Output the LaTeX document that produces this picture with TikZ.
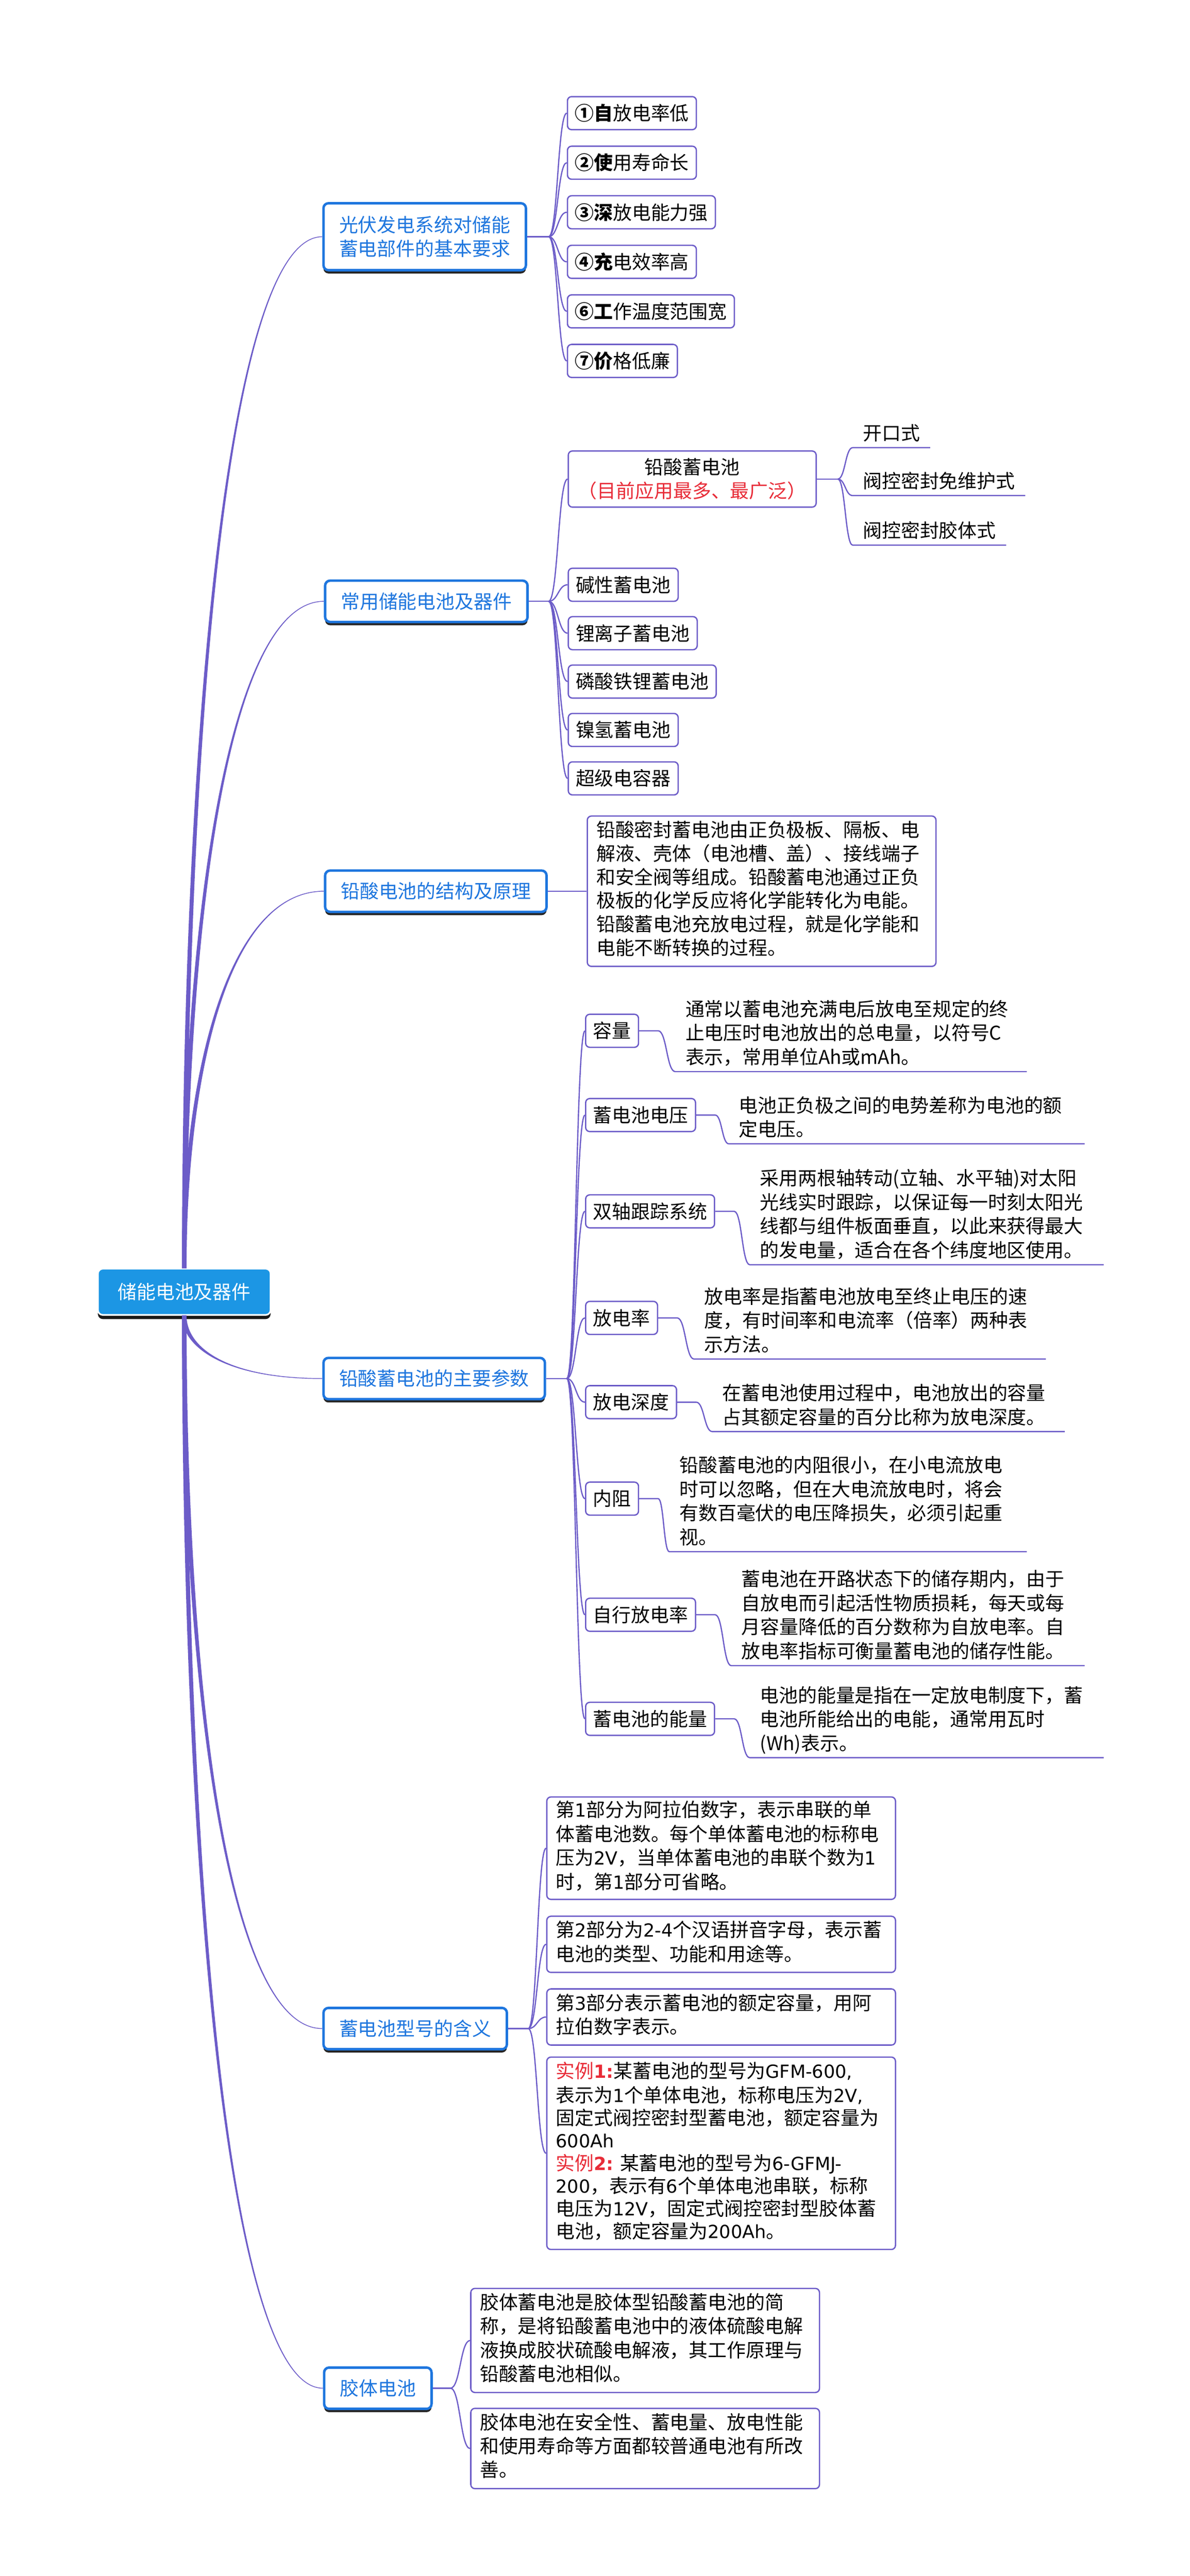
\documentclass[tikz,border=0pt]{standalone}
\usepackage{fontspec}
\setmainfont{Noto Sans CJK SC}
\newfontfamily\numfont{DejaVu Sans}[Scale=0.95]
\usetikzlibrary{calc,shadows}
\definecolor{linkc}{RGB}{108,92,200}
\definecolor{topicc}{RGB}{30,118,222}
\definecolor{rootc}{RGB}{28,150,228}
\definecolor{redc}{RGB}{232,44,56}
\tikzset{
  txt/.style={font={\fontsize{11.5pt}{14.5pt}\selectfont}},
  rootbox/.style={txt,rounded corners=3pt,fill=rootc,draw=white,line width=1pt,text=white,inner xsep=12pt,minimum height=28pt,drop shadow={shadow xshift=0pt,shadow yshift=-2.5pt,fill=black,opacity=0.9}},
  topic/.style={txt,anchor=west,rounded corners=3pt,draw=topicc,line width=1.5pt,fill=white,text=topicc,inner xsep=9.5pt,minimum height=25pt,drop shadow={shadow xshift=0pt,shadow yshift=-2pt,fill=black,opacity=0.85}},
  leaf/.style={txt,anchor=west,rounded corners=2.5pt,draw=linkc,line width=0.8pt,fill=white,inner xsep=4.5pt,minimum height=20pt},
  para/.style={leaf,align=left,text width=200pt,inner xsep=5.5pt,inner ysep=2.5pt,execute at begin node=\strut,execute at end node=\strut},
  note/.style={txt,anchor=south west,align=left,inner xsep=6pt,inner ysep=0pt,execute at begin node=\strut,execute at end node=\strut},
  link/.style={color=linkc,line width=0.75pt},
  rootlink/.style={color=linkc,line width=0.45pt},
  sbend/.style={to path={.. controls ($(\tikztostart)!0.5!(\tikztostart -| \tikztotarget)$) and ($(\tikztotarget)!0.5!(\tikztostart |- \tikztotarget)$) .. (\tikztotarget)}},
  taper/.style={fill=linkc,to path={($(\tikztostart)+(-1.15,0)$) .. controls ($(\tikztostart)!0.5!(\tikztostart |- \tikztotarget)+(-1.15,0)$) and ($(\tikztotarget)!0.7!(\tikztostart |- \tikztotarget)$) .. (\tikztotarget) .. controls ($(\tikztotarget)!0.7!(\tikztostart |- \tikztotarget)$) and ($(\tikztostart)!0.5!(\tikztostart |- \tikztotarget)+(1.15,0)$) .. ($(\tikztostart)+(1.15,0)$) -- cycle}}
}
\begin{document}
\begin{tikzpicture}[x=1pt,y=-1pt]
	\useasboundingbox (0,0) rectangle (720,1559.4);
	\node[rootbox](root) at (111.5,782){储能电池及器件};
	\node[topic,align=center,minimum height=40.5pt](b1) at (195,143.3){光伏发电系统对储能\\蓄电部件的基本要求};
	\node[topic](b2) at (196,364){常用储能电池及器件};
	\node[topic](b3) at (196,539.5){铅酸电池的结构及原理};
	\node[topic](b4) at (195,834.5){铅酸蓄电池的主要参数};
	\node[topic](b5) at (195,1228){蓄电池型号的含义};
	\node[topic](b6) at (195.4,1445.7){胶体电池};
	\path[rootlink](root.north) edge[taper] (b1.west) edge[taper] (b2.west) edge[taper] (b3.west);
	\path[rootlink](root.south) edge[taper] (b4.west) edge[taper] (b5.west) edge[taper] (b6.west);

	\node[leaf](a1) at (343,68.5){{\bfseries ①自}放电率低};
	\node[leaf](a2) at (343,98.5){{\bfseries ②使}用寿命长};
	\node[leaf](a3) at (343,128.5){{\bfseries ③深}放电能力强};
	\node[leaf](a4) at (343,158.5){{\bfseries ④充}电效率高};
	\node[leaf](a5) at (343,188.5){{\bfseries ⑥工}作温度范围宽};
	\node[leaf](a6) at (343,218.5){{\bfseries ⑦价}格低廉};
	\coordinate(j1) at (332,143.3);
	\draw[link](b1.east) -- (j1);
	\path[link](j1) edge[sbend] (a1.west) edge[sbend] (a2.west) edge[sbend] (a3.west) edge[sbend] (a4.west) edge[sbend] (a5.west) edge[sbend] (a6.west);

	\node[leaf,align=center,inner xsep=6pt,minimum height=34pt](c1) at (343.5,290){铅酸蓄电池\\\textcolor{redc}{（目前应用最多、最广泛）}};
	\node[leaf](c2) at (343.5,354){碱性蓄电池};
	\node[leaf](c3) at (343.5,383.3){锂离子蓄电池};
	\node[leaf](c4) at (343.5,412.6){磷酸铁锂蓄电池};
	\node[leaf](c5) at (343.5,441.9){镍氢蓄电池};
	\node[leaf](c6) at (343.5,471.2){超级电容器};
	\coordinate(j2) at (332,364);
	\draw[link](b2.east) -- (j2);
	\path[link](j2) edge[sbend] (c1.west) edge[sbend] (c2.west) edge[sbend] (c3.west) edge[sbend] (c4.west) edge[sbend] (c5.west) edge[sbend] (c6.west);
	\node[note](e1) at (516,271){开口式};
	\node[note](e2) at (516,300){阀控密封免维护式};
	\node[note](e3) at (516,330){阀控密封胶体式};
	\coordinate(cj) at (507,290);
	\draw[link](c1.east) -- (cj);
	\draw[link](cj) to[sbend] (e1.south west) -- (e1.south east);
	\draw[link](cj) to[sbend] (e2.south west) -- (e2.south east);
	\draw[link](cj) to[sbend] (e3.south west) -- (e3.south east);

	\node[para,font={\fontsize{11.5pt}{14.3pt}\selectfont},inner ysep=2.6pt](p1) at (355,539.5){铅酸密封蓄电池由正负极板、隔板、电\\解液、壳体（电池槽、盖）、接线端子\\和安全阀等组成。铅酸蓄电池通过正负\\极板的化学反应将化学能转化为电能。\\铅酸蓄电池充放电过程，就是化学能和\\电能不断转换的过程。};
	\draw[link](b3.east) -- (p1.west);

	\node[leaf](k1) at (354,624){容量};
	\node[leaf](k2) at (354,675){蓄电池电压};
	\node[leaf](k3) at (354,733.3){双轴跟踪系统};
	\node[leaf](k4) at (354,797.8){放电率};
	\node[leaf](k5) at (354,848.8){放电深度};
	\node[leaf](k6) at (354,907.2){内阻};
	\node[leaf](k7) at (354,977.5){自行放电率};
	\node[leaf](k8) at (354,1040.5){蓄电池的能量};
	\coordinate(j4) at (343,834.5);
	\draw[link](b4.east) -- (j4);
	\path[link](j4) edge[sbend] (k1.west) edge[sbend] (k2.west) edge[sbend] (k3.west) edge[sbend] (k4.west) edge[sbend] (k5.west) edge[sbend] (k6.west) edge[sbend] (k7.west) edge[sbend] (k8.west);
	\node[note,text width=200.4pt](d1) at (408.6,648.7){通常以蓄电池充满电后放电至规定的终\\止电压时电池放出的总电量，以符号C\\表示，常用单位Ah或mAh。};
	\node[note,text width=203pt](d2) at (441,692.4){电池正负极之间的电势差称为电池的额\\定电压。};
	\node[note,text width=201.8pt](d3) at (453.7,765.6){采用两根轴转动(立轴、水平轴)对太阳\\光线实时跟踪，以保证每一时刻太阳光\\线都与组件板面垂直，以此来获得最大\\的发电量，适合在各个纬度地区使用。};
	\node[note,text width=200.5pt](d4) at (420,822.7){放电率是指蓄电池放电至终止电压的速\\度，有时间率和电流率（倍率）两种表\\示方法。};
	\node[note,text width=201pt](d5) at (431,866.6){在蓄电池使用过程中，电池放出的容量\\占其额定容量的百分比称为放电深度。};
	\node[note,text width=204pt](d6) at (405,939.3){铅酸蓄电池的内阻很小，在小电流放电\\时可以忽略，但在大电流放电时，将会\\有数百毫伏的电压降损失，必须引起重\\视。};
	\node[note,text width=201.5pt](d7) at (442.5,1008.3){蓄电池在开路状态下的储存期内，由于\\自放电而引起活性物质损耗，每天或每\\月容量降低的百分数称为自放电率。自\\放电率指标可衡量蓄电池的储存性能。};
	\node[note,text width=201.8pt](d8) at (453.7,1064){电池的能量是指在一定放电制度下，蓄\\电池所能给出的电能，通常用瓦时\\(Wh)表示。};
	\coordinate(k1j) at ($(k1.east)+(11.5,0)$);
	\coordinate(k2j) at ($(k2.east)+(11.5,0)$);
	\coordinate(k3j) at ($(k3.east)+(11.5,0)$);
	\coordinate(k4j) at ($(k4.east)+(11.5,0)$);
	\coordinate(k5j) at ($(k5.east)+(11.5,0)$);
	\coordinate(k6j) at ($(k6.east)+(11.5,0)$);
	\coordinate(k7j) at ($(k7.east)+(11.5,0)$);
	\coordinate(k8j) at ($(k8.east)+(11.5,0)$);
	\draw[link](k1.east) -- (k1j) to[sbend] (d1.south west) -- (d1.south east);
	\draw[link](k2.east) -- (k2j) to[sbend] (d2.south west) -- (d2.south east);
	\draw[link](k3.east) -- (k3j) to[sbend] (d3.south west) -- (d3.south east);
	\draw[link](k4.east) -- (k4j) to[sbend] (d4.south west) -- (d4.south east);
	\draw[link](k5.east) -- (k5j) to[sbend] (d5.south west) -- (d5.south east);
	\draw[link](k6.east) -- (k6j) to[sbend] (d6.south west) -- (d6.south east);
	\draw[link](k7.east) -- (k7j) to[sbend] (d7.south west) -- (d7.south east);
	\draw[link](k8.east) -- (k8j) to[sbend] (d8.south west) -- (d8.south east);

	\node[para,inner ysep=2pt](m1) at (330.5,1118.8){第{\numfont 1}部分为阿拉伯数字，表示串联的单\\体蓄电池数。每个单体蓄电池的标称电\\压为{\numfont 2V}，当单体蓄电池的串联个数为{\numfont 1}\\时，第{\numfont 1}部分可省略。};
	\node[para](m2) at (330.5,1177){第{\numfont 2}部分为{\numfont 2-4}个汉语拼音字母，表示蓄\\电池的类型、功能和用途等。};
	\node[para](m3) at (330.5,1221){第{\numfont 3}部分表示蓄电池的额定容量，用阿\\拉伯数字表示。};
	\node[para,font={\fontsize{11.5pt}{13.7pt}\selectfont},inner ysep=2.8pt](m4) at (330.5,1303.5){{\color{redc}实例{\numfont\bfseries 1:}}某蓄电池的型号为{\numfont GFM-600,}\\表示为{\numfont 1}个单体电池，标称电压为{\numfont 2V,}\\固定式阀控密封型蓄电池，额定容量为\\{\numfont 600Ah}\\{\color{redc}实例{\numfont\bfseries 2:}}\ 某蓄电池的型号为{\numfont 6-GFMJ-}\\{\numfont 200}，表示有{\numfont 6}个单体电池串联，标称\\电压为{\numfont 12V}，固定式阀控密封型胶体蓄\\电池，额定容量为{\numfont 200Ah}。};
	\coordinate(j5) at (319.7,1228);
	\draw[link](b5.east) -- (j5);
	\path[link](j5) edge[sbend] (m1.west) edge[sbend] (m2.west) edge[sbend] (m3.west) edge[sbend] (m4.west);

	\node[para,font={\fontsize{11.5pt}{14.4pt}\selectfont},inner ysep=2.7pt](g1) at (284.5,1416.8){胶体蓄电池是胶体型铅酸蓄电池的简\\称，是将铅酸蓄电池中的液体硫酸电解\\液换成胶状硫酸电解液，其工作原理与\\铅酸蓄电池相似。};
	\node[para,font={\fontsize{11.5pt}{14.4pt}\selectfont},inner ysep=2.7pt](g2) at (284.5,1482.2){胶体电池在安全性、蓄电量、放电性能\\和使用寿命等方面都较普通电池有所改\\善。};
	\coordinate(j6) at (272.6,1445.7);
	\draw[link](b6.east) -- (j6);
	\path[link](j6) edge[sbend] (g1.west) edge[sbend] (g2.west);
\end{tikzpicture}
\end{document}
